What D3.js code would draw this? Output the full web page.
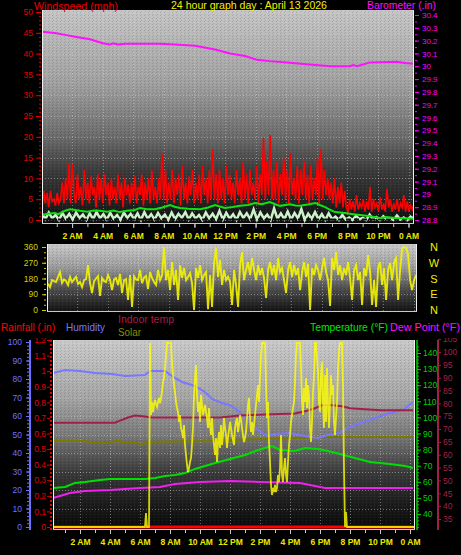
<!DOCTYPE html>
<html><head><meta charset="utf-8">
<script src="https://cdn.jsdelivr.net/npm/d3@7"></script>
<style>body{margin:0;background:#000;} svg{display:block;} text{font-family:"Liberation Sans",Arial,sans-serif;}</style>
</head><body><svg id="c" width="461" height="555"></svg>
<script>
// ---------------- DATA ----------------
const hourTicks = [2,4,6,8,10,12,14,16,18,20,22,24];
const hourLabels = ["2 AM","4 AM","6 AM","8 AM","10 AM","12 PM","2 PM","4 PM","6 PM","8 PM","10 PM","0 AM"];
const windTicks = [0,5,10,15,20,25,30,35,40,45,50];
const baroTicks = [28.8,28.9,29.0,29.1,29.2,29.3,29.4,29.5,29.6,29.7,29.8,29.9,30.0,30.1,30.2,30.3,30.4];
const dirTicks = [0,90,180,270,360];
const compassLabels = ["N","E","S","W","N"]; // for 0,90,180,270,360
const humTicks = [0,10,20,30,40,50,60,70,80,90,100];
const rainTicks = [0,0.1,0.2,0.3,0.4,0.5,0.6,0.7,0.8,0.9,1,1.1,1.2];
const tempTicks = [40,50,60,70,80,90,100,110,120,130,140];
const indoorTicks = [35,40,45,50,55,60,65,70,75,80,85,90,95,100,105];

// wind gust (mph), evenly spaced from 00:02 to 00:22 next day
const windGustSpan = [0.03, 24.36];
const windGust = [3,7,4,6.5,3,7,4.5,5,3.5,6.5,4,
 5,9,4,10,5,13.7,4,13.5,6,
 4,11,5,8,3.5,12,5,9,4,10.5,6,8,3,11,5,
 10,4,11,6,9,3.5,10,5,8,4,11,5,9,3,10,6,8.5,4,
 9,5,10.5,4,8,6,11,3.5,9,5,10,4,12,5,8,4,10,5,
 16,5,12,4,
 9,5,12,4,10,6,11,3.5,13,5,9,4,10.5,6,12,4,9,5,11,4,13,6,10,4,12,5,
 17,5,11,4,
 12,5,10,4,13,6,11,5,9,4,12,6,10,4,14,5,11,4,12,6,9,5,13,4,11,6,
 19.7,5,14,6,20.4,5,12,
 5,14,4,11,6,15,5,12,4,16,6,10,5,13,4,12,6,14,5,11,4,13,5,10,6,15,4,17,5,12,6,10,5,9,
 4,10,3,8,4,9,3,7,3,
 2,5,2.5,4.5,2,6,2.5,4,3,5,2,4.5,2.5,8,2,5,3,4,2,5.5,2.5,4,2,7.5,3,5,2,4,2.5,5,2,4,3,6,2,4.5,2,3.5,2.5,4];
// average wind speed (mph) [hour, mph]
const windAvg = [[0.03,1.2],[0.4,1.5],[0.88,1.7],[1.1,1.4],[1.34,1.9],[1.6,2.3],[1.86,2.6],[2.2,2.4],[2.52,2.2],[3.0,2.0],[3.4,2.3],[3.83,2.2],[4.3,2.0],[4.7,2.3],[5.13,1.9],[5.6,2.2],[6.11,2.4],[6.44,2.9],[6.9,2.6],[7.42,2.6],[7.9,3.0],[8.41,3.6],[8.7,3.2],[9.06,2.9],[9.6,2.7],[10.37,2.6],[10.9,3.0],[11.35,3.6],[11.7,3.2],[12.0,2.9],[12.5,3.1],[12.98,3.4],[13.5,3.6],[13.96,4.1],[14.4,3.8],[14.94,4.3],[15.2,3.9],[15.6,3.4],[16.25,3.8],[16.6,3.5],[16.9,3.4],[17.4,3.7],[17.9,4.1],[18.2,3.6],[18.55,3.1],[18.9,2.4],[19.2,1.9],[19.85,1.7],[20.4,1.4],[20.83,1.2],[21.5,0.9],[22.14,0.5],[22.6,0.7],[23.12,0.5],[23.7,0.4],[24.36,0.3]];
// instantaneous wind speed (mph), evenly spaced
const windSpeedSpan = [0.03, 24.36];
const windSpeed = [1.5,0.2,1.8,0.4,1.2,0,1.7,0.3,1.5,0.1,
 1.8,0.5,1.3,0,1.6,0.2,1.9,0.4,1.4,0.1,
 1.7,0.3,1.2,0,1.8,0.5,1.5,0.2,1.6,0,
 1.9,0.3,1.4,0.1,1.7,0.4,1.3,0,1.8,0.2,
 1.5,0.5,1.9,0.1,1.6,0.3,1.2,0,1.8,0.4,
 1.5,0.2,2.2,0.1,1.7,0.3,1.4,0,1.9,0.5,
 1.6,0.2,2.5,0.1,1.8,0.4,1.3,0,2.8,0.3,
 1.6,0.2,2.0,0.1,1.7,0.4,2.6,0,1.5,0.3,
 1.9,0.2,1.4,0,1.6,
 0.2,0.8,0,1.2,0.1,0.6,0,1.0,0.2,0.5,0,1.3,0.1,0.7,0,0.9,0.2,0.4,0,1.1,0.1,0.6,0,0.8,0.2];
// barometer (in) [hour, in]
const barometer = [[0.03,30.27],[0.88,30.26],[1.54,30.245],[2.19,30.23],[3.17,30.21],[4.02,30.18],[4.48,30.17],[4.68,30.18],[5.0,30.17],[5.46,30.175],[7.75,30.175],[8.73,30.17],[10.04,30.16],[11.35,30.13],[12.33,30.10],[13.31,30.08],[14.1,30.05],[14.94,30.04],[16.05,30.03],[17.36,30.015],[18.87,30.0],[20.17,30.0],[20.37,30.01],[20.63,30.0],[21.48,30.03],[23.25,30.035],[23.77,30.025],[24.36,30.02]];
// wind direction (deg), evenly spaced
const windDirSpan = [0.1, 24.17];
const windDir = [150,131,171,165,160,189,217,154,175,165,143,189,160,175,190,149,160,131,170,177,257,154,97,165,180,194,80,183,165,160,200,171,114,175,183,143,206,97,170,177,57,200,17,194,175,171,229,154,185,194,120,217,183,160,143,229,171,200,360,
 171,229,114,274,143,229,57,257,183,240,171,189,211,154,0,240,183,257,171,200,217,5,200,17,274,354,189,286,143,229,171,190,160,
 29,229,143,17,257,331,171,229,274,200,297,229,171,257,200,240,183,69,229,274,200,257,171,297,217,240,171,97,229,274,189,257,200,240,114,217,274,189,263,0,240,200,257,229,171,240,297,217,171,23,297,229,331,200,257,171,240,200,274,183,57,229,257,171,217,29,240,194,314,217,29,171,17,240,274,143,240,57,229,269,171,274,297,57,229,354,360,354,320,171,114,171,200];
// rainfall (in)
const rainfall = [[0.2,0],[24.33,0]];
// humidity (%)
const humidity = [[0.2,83.2],[1.0,84.9],[2.0,84.3],[3.0,83.2],[4.13,82.7],[5.0,81.6],[6.33,82.2],[6.67,84.3],[7.67,84.3],[8.13,81.6],[8.8,78.4],[9.67,76.2],[10.33,73.0],[10.8,69.2],[11.47,67.0],[12.13,65.4],[12.8,61.1],[13.33,56.8],[13.87,52.4],[14.47,49.2],[15.0,50.3],[16.0,50.8],[16.67,49.7],[17.33,48.6],[17.87,48.1],[18.53,49.7],[19.33,50.8],[19.8,53.5],[20.67,56.2],[21.67,58.9],[22.67,61.6],[23.53,63.2],[24.2,67.6]];
// indoor temperature (F)
const indoorTemp = [[0.2,72.5],[4.33,72.5],[4.67,73.3],[5.2,74.5],[5.67,75.3],[6.33,74.9],[6.67,74.5],[11.33,74.5],[12.67,75.3],[14.33,75.7],[16.33,76.1],[17.0,76.9],[17.67,78.1],[18.13,79.3],[18.8,79.3],[19.47,78.9],[20.0,78.1],[21.0,77.7],[22.0,77.3],[24.2,77.3]];
// olive trace (plotted on humidity scale)
const oliveTrace = [[0.2,46.5],[2.47,46.5],[2.53,45.4],[4.2,45.4],[4.27,46.5],[4.67,46.5],[4.73,45.4],[5.8,45.4],[6.13,44.3],[6.47,45.9],[10.47,46.5],[14.33,47.6],[18.67,48.6],[24.2,48.6]];
// solar (W/m2): night zeros + 4-minute values from 06:24 to 19:48
const solarStart = 6.4, solarStepMin = 4;
const solarDay = [70,0,0,0,920,560,625,575,610,635,615,600,625,645,620,645,675,725,745,795,860,920,920,920,920,920,825,760,710,675,625,595,575,525,560,495,475,445,510,410,360,310,275,295,325,345,410,495,660,745,810,660,575,625,525,660,610,560,585,610,575,545,495,595,510,460,545,460,410,360,445,325,425,475,395,510,410,460,545,495,460,395,445,485,525,495,460,435,410,495,525,545,475,510,560,535,495,460,425,445,475,545,610,645,545,475,525,460,510,560,610,660,710,625,745,860,920,920,920,920,710,545,625,425,325,210,160,195,175,210,175,195,260,225,295,460,260,225,295,345,260,225,325,410,460,525,560,595,625,725,860,920,920,920,920,795,625,560,695,625,745,595,710,660,495,425,525,675,760,920,920,845,775,625,575,760,825,625,495,760,525,795,625,495,625,760,660,710,525,460,545,625,795,875,920,920,920,710,295,0,75,0];
const solarNight = [[0.2,0],[6.33,0],[19.87,0],[24.33,0]];
// outdoor temperature (F)
const temperature = [[0.2,56.1],[1.0,56.8],[1.67,59.3],[2.33,59.9],[3.33,61.1],[4.0,61.7],[6.33,61.7],[7.0,62.4],[7.67,63.6],[8.33,64.2],[9.0,65.5],[9.67,68.0],[10.33,69.8],[11.0,71.7],[12.0,74.2],[13.0,76.6],[13.67,79.1],[14.33,81.0],[14.8,82.2],[15.33,79.8],[16.33,79.1],[17.0,81.0],[17.87,80.4],[18.53,79.1],[19.33,77.3],[20.33,74.8],[21.33,72.3],[22.67,71.1],[23.67,69.8],[24.2,68.6]];
// dew point (F)
const dewPoint = [[0.2,49.9],[1.33,53.0],[2.33,54.3],[4.0,54.9],[6.0,56.1],[7.33,56.8],[8.33,58.6],[10.0,59.9],[12.0,60.5],[14.0,59.9],[16.67,59.3],[17.67,57.4],[18.33,56.1],[21.0,56.1],[24.2,56.1]];

// ---------------- DRAW ----------------
const svg = d3.select("#c");
const defs = svg.append("defs");
function grad(id, stops){
  const g = defs.append("linearGradient").attr("id",id).attr("x1",0).attr("y1",0).attr("x2",0).attr("y2",1);
  stops.forEach(s=>g.append("stop").attr("offset",s[0]).attr("stop-color",s[1]));
}
grad("gTop",[[0,"#c6c6c6"],[0.35,"#a0a0a0"],[0.6,"#6a6a6a"],[0.75,"#3c3c3c"],[0.9,"#222"],[1,"#0c0c0c"]]);
grad("gMid",[[0,"#cacaca"],[0.35,"#9a9a9a"],[0.65,"#505050"],[1,"#101010"]]);
grad("gLow",[[0,"#cacaca"],[0.3,"#a6a6a6"],[0.5,"#7a7a7a"],[0.7,"#3a3a3a"],[0.85,"#1e1e1e"],[1,"#080808"]]);
// dither texture
const pat = defs.append("pattern").attr("id","dith").attr("width",4).attr("height",3).attr("patternUnits","userSpaceOnUse");
pat.append("rect").attr("x",0).attr("y",0).attr("width",1).attr("height",1).attr("fill","#000").attr("fill-opacity",0.14);
pat.append("rect").attr("x",2).attr("y",1).attr("width",1).attr("height",1).attr("fill","#fff").attr("fill-opacity",0.07);
pat.append("rect").attr("x",1).attr("y",2).attr("width",1).attr("height",1).attr("fill","#000").attr("fill-opacity",0.1);
function clip(id,x,y,w,h){defs.append("clipPath").attr("id",id).append("rect").attr("x",x).attr("y",y).attr("width",w).attr("height",h);}
const P = {top:{x:42,y:10,w:372,h:214}, mid:{x:47,y:244,w:370,h:68}, low:{x:53,y:340,w:362,h:190}};
clip("cTop",P.top.x,P.top.y,P.top.w,P.top.h);
clip("cMid",P.mid.x,P.mid.y,P.mid.w,P.mid.h);
clip("cLow",P.low.x,P.low.y,P.low.w,P.low.h);
clip("cLowAx",0,338,461,200);

// scales
const xTop = d3.scaleLinear().domain([0,24]).range([41.5,408.5]);
const yWind = d3.scaleLinear().domain([0,50]).range([220,12]);
const yBaro = d3.scaleLinear().domain([28.8,30.4]).range([220,15]);
const xMid = d3.scaleLinear().domain([0,24]).range([46.5,413.5]);
const yDir = d3.scaleLinear().domain([0,360]).range([310,247]);
const xLow = d3.scaleLinear().domain([0,24]).range([50,410]);
const yHum = d3.scaleLinear().domain([0,100]).range([527,342]);
const yRain = d3.scaleLinear().domain([0,1.2]).range([527,340]);
const yTemp = d3.scaleLinear().domain([40,140]).range([514,353]);
const yIn = d3.scaleLinear().domain([35,100]).range([519,352]);
const ySolar = d3.scaleLinear().domain([0,920]).range([527,343]);

function even(arr, span){ return arr.map((v,i)=>[span[0]+i*(span[1]-span[0])/(arr.length-1), v]); }
function line(x,y){ return d3.line().x(d=>x(d[0])).y(d=>y(d[1])); }

// panel backgrounds
function panel(p, g){
  svg.append("rect").attr("x",p.x).attr("y",p.y).attr("width",p.w).attr("height",p.h).attr("fill",`url(#${g})`);
  svg.append("rect").attr("x",p.x).attr("y",p.y).attr("width",p.w).attr("height",p.h).attr("fill","url(#dith)");
}
panel(P.top,"gTop"); panel(P.mid,"gMid"); panel(P.low,"gLow");

// grid
function grid(p, xs, xScale, ys, yScale){
  const g = svg.append("g").attr("stroke","#d8d8d8").attr("stroke-opacity",0.45).attr("stroke-dasharray","1,2");
  xs.forEach(h=>{const x=Math.round(xScale(h))+0.5; if(x>p.x && x<p.x+p.w) g.append("line").attr("x1",x).attr("x2",x).attr("y1",p.y).attr("y2",p.y+p.h);});
  ys.forEach(v=>{const y=Math.round(yScale(v))+0.5; if(y>p.y+1 && y<p.y+p.h-2) g.append("line").attr("x1",p.x).attr("x2",p.x+p.w).attr("y1",y).attr("y2",y);});
}
grid(P.top, hourTicks, xTop, windTicks, yWind);
grid(P.mid, hourTicks, xMid, dirTicks, yDir);
grid(P.low, hourTicks, xLow, humTicks, yHum);

// ---- top panel series
const gt = svg.append("g").attr("clip-path","url(#cTop)").attr("fill","none");
gt.append("path").attr("d", line(xTop,yBaro)(barometer)).attr("stroke","#ff10ff").attr("stroke-width",2);
gt.append("path").attr("d", line(xTop,yWind)(even(windGust,windGustSpan))).attr("stroke","#ff0000").attr("stroke-width",1.6);
gt.append("path").attr("d", line(xTop,yWind)(even(windSpeed,windSpeedSpan))).attr("stroke","#ccf2cc").attr("stroke-width",2.5);
gt.append("line").attr("x1",P.top.x).attr("x2",P.top.x+P.top.w).attr("y1",yWind(0.1)).attr("y2",yWind(0.1)).attr("stroke","#111").attr("stroke-width",2).attr("stroke-dasharray","5,3");
gt.append("path").attr("d", line(xTop,yWind)(windAvg)).attr("stroke","#10e010").attr("stroke-width",2);

// ---- mid panel
const gm = svg.append("g").attr("clip-path","url(#cMid)").attr("fill","none");
gm.append("path").attr("d", line(xMid,yDir)(even(windDir,windDirSpan))).attr("stroke","#f4f400").attr("stroke-width",1.9).attr("stroke-opacity",0.9);

// ---- low panel
const gl = svg.append("g").attr("clip-path","url(#cLow)").attr("fill","none");
gl.append("path").attr("d", line(xLow,yRain)(rainfall)).attr("stroke","#ff0000").attr("stroke-width",3);
gl.append("path").attr("d", line(xLow,yHum)(oliveTrace)).attr("stroke","#7a7a00").attr("stroke-width",2);
gl.append("path").attr("d", line(xLow,yHum)(humidity)).attr("stroke","#7878ff").attr("stroke-width",2);
gl.append("path").attr("d", line(xLow,yIn)(indoorTemp)).attr("stroke","#a0204a").attr("stroke-width",2);
gl.append("path").attr("d", line(xLow,yTemp)(temperature)).attr("stroke","#00e000").attr("stroke-width",2);
gl.append("path").attr("d", line(xLow,yTemp)(dewPoint)).attr("stroke","#f020f0").attr("stroke-width",2);
const solar = [solarNight[0],solarNight[1]].concat(solarDay.map((v,i)=>[solarStart+i*solarStepMin/60, v])).concat([solarNight[2],solarNight[3]]);
gl.append("path").attr("d", line(xLow,ySolar)(solar)).attr("stroke","#ffff00").attr("stroke-width",1.8).attr("stroke-opacity",0.8);

// borders
function border(p){
  svg.append("line").attr("x1",p.x+0.5).attr("x2",p.x+0.5).attr("y1",p.y).attr("y2",p.y+p.h).attr("stroke","#f0f0f0");
  svg.append("line").attr("x1",p.x+p.w-0.5).attr("x2",p.x+p.w-0.5).attr("y1",p.y).attr("y2",p.y+p.h).attr("stroke","#f0f0f0");
  svg.append("line").attr("x1",p.x).attr("x2",p.x+p.w).attr("y1",p.y+p.h-0.5).attr("y2",p.y+p.h-0.5).attr("stroke","#c8c8c8");
}
border(P.top); border(P.mid); border(P.low);

// ---- axes
function styleAxis(sel,color,size){
  sel.select(".domain").remove();
  sel.selectAll("line").attr("stroke",color);
  sel.selectAll("text").attr("fill",color).style("font-size",size+"px").style("font-family","Liberation Sans, Arial, sans-serif");
}
const fmt1 = d => String(+d.toFixed(1));
// top left windspeed
svg.append("g").attr("transform","translate(41,0)").call(d3.axisLeft(yWind).tickValues(d3.range(0,51,1)).tickSize(2).tickFormat("")).call(s=>styleAxis(s,"#e00000",8));
svg.append("g").attr("transform","translate(41,0)").call(d3.axisLeft(yWind).tickValues(windTicks).tickSize(5).tickPadding(3)).call(s=>styleAxis(s,"#e00000",8.5));
// top right barometer
svg.append("g").attr("transform","translate(415,0)").call(d3.axisRight(yBaro).tickValues(d3.range(28.8,30.45,0.05)).tickSize(2).tickFormat("")).call(s=>styleAxis(s,"#ff00ff",8));
svg.append("g").attr("transform","translate(415,0)").call(d3.axisRight(yBaro).tickValues(baroTicks).tickSize(4).tickPadding(3).tickFormat(fmt1)).call(s=>styleAxis(s,"#ff00ff",8));
// x axes
function xAxis(xs, y, p){
  svg.append("g").attr("transform",`translate(0,${y})`).call(d3.axisBottom(xs).tickValues(d3.range(1,24.5,1)).tickSize(3).tickFormat("")).call(s=>styleAxis(s,"#c8c8c8",8));
  const g = svg.append("g").attr("transform",`translate(0,${y})`).call(d3.axisBottom(xs).tickValues(hourTicks).tickSize(4).tickPadding(5).tickFormat((d,i)=>hourLabels[i]));
  styleAxis(g,"#e8e800",8.5);
  g.selectAll("line").attr("stroke","#c8c8c8");
  g.selectAll("text").style("font-weight","bold");
}
xAxis(xTop, 224, P.top);
xAxis(xLow, 530, P.low);
// mid direction axis
svg.append("g").attr("transform","translate(46,0)").call(d3.axisLeft(yDir).tickValues(d3.range(0,361,30)).tickSize(2).tickFormat("")).call(s=>styleAxis(s,"#c8c800",8));
svg.append("g").attr("transform","translate(46,0)").call(d3.axisLeft(yDir).tickValues(dirTicks).tickSize(4).tickPadding(4)).call(s=>styleAxis(s,"#d0d000",8.5));
svg.append("g").selectAll("text").data(dirTicks).join("text").attr("x",434).attr("y",d=>yDir(d)+4).attr("text-anchor","middle").attr("fill","#f0f000").style("font-size","11px").text((d,i)=>compassLabels[i]);

// low axes (clipped at top)
const la = svg.append("g").attr("clip-path","url(#cLowAx)");
la.append("line").attr("x1",30).attr("x2",30).attr("y1",340).attr("y2",530).attr("stroke","#7070ff").attr("stroke-width",2);
la.append("g").attr("transform","translate(29,0)").call(d3.axisLeft(yHum).tickValues(d3.range(0,101,2)).tickSize(2).tickFormat("")).call(s=>styleAxis(s,"#7070ff",8));
la.append("g").attr("transform","translate(29,0)").call(d3.axisLeft(yHum).tickValues(humTicks).tickSize(3).tickPadding(4)).call(s=>styleAxis(s,"#7070ff",8.5));
la.append("line").attr("x1",51).attr("x2",51).attr("y1",340).attr("y2",530).attr("stroke","#e00000").attr("stroke-width",2).attr("stroke-dasharray","2,2");
la.append("g").attr("transform","translate(50,0)").call(d3.axisLeft(yRain).tickValues(rainTicks).tickSize(3).tickPadding(1).tickFormat(fmt1)).call(s=>styleAxis(s,"#e00000",8.5));
la.append("line").attr("x1",417).attr("x2",417).attr("y1",340).attr("y2",530).attr("stroke","#00d000").attr("stroke-width",1.5);
la.append("g").attr("transform","translate(417,0)").call(d3.axisRight(yTemp).tickValues(d3.range(32,146,2)).tickSize(2).tickFormat("")).call(s=>styleAxis(s,"#00d000",8));
la.append("g").attr("transform","translate(417,0)").call(d3.axisRight(yTemp).tickValues(tempTicks).tickSize(4).tickPadding(2)).call(s=>styleAxis(s,"#00d000",8.5));
la.append("line").attr("x1",438).attr("x2",438).attr("y1",340).attr("y2",530).attr("stroke","#a0204a").attr("stroke-width",2);
la.append("g").attr("transform","translate(438,0)").call(d3.axisRight(yIn).tickValues(indoorTicks).tickSize(3).tickPadding(2)).call(s=>styleAxis(s,"#a0204a",8.5));

// ---- titles / legends
function label(txt,x,y,color,w,size=11,anchor="start"){
  svg.append("text").attr("x",x).attr("y",y).attr("fill",color).attr("text-anchor",anchor).style("font-size",size+"px")
    .attr("textLength",w).attr("lengthAdjust","spacingAndGlyphs").text(txt);
}
label("Windspeed (mph)",34,9.5,"#e80000",84,11.5);
label("24 hour graph day : April 13 2026",171,9,"#f0f000",156,11);
label("Barometer (.in)",367,8.5,"#ff10ff",69,10.5);
label("Rainfall (.in)",1,331,"#ff0000",54,11);
label("Humidity",66,331,"#7878ff",39,11);
label("Indoor temp",118,323,"#b01848",56,11);
label("Solar",118,336,"#8c8c00",23,11);
label("Temperature (°F)",310,331,"#00e800",78,11);
label("Dew Point (°F)",390,331,"#ff10ff",70,11);
</script></body></html>
